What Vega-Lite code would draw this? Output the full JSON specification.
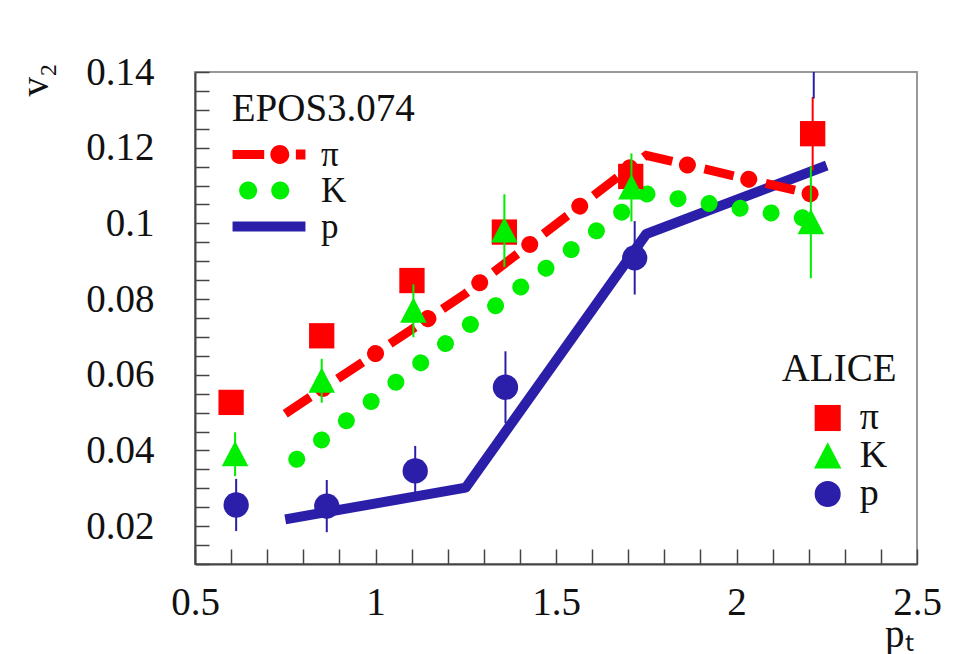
{
  "$schema": "https://vega.github.io/schema/vega-lite/v6.json",
  "width": 722,
  "height": 492,
  "autosize": {"type": "none"},
  "padding": {"left": 195, "top": 72, "right": 38, "bottom": 90},
  "background": "white",
  "config": {"view": {"stroke": "#999", "strokeWidth": 2}, "font": "Liberation Serif"},
  "datasets": {
    "epos": [
      {"particle": "π", "pt": 0.75, "v2": 0.0497},
      {"particle": "π", "pt": 1.25, "v2": 0.0815},
      {"particle": "π", "pt": 1.75, "v2": 0.1180},
      {"particle": "π", "pt": 2.25, "v2": 0.1068},
      {"particle": "K", "pt": 0.75, "v2": 0.0353},
      {"particle": "K", "pt": 1.25, "v2": 0.0724},
      {"particle": "K", "pt": 1.75, "v2": 0.1078},
      {"particle": "K", "pt": 2.25, "v2": 0.1005},
      {"particle": "p", "pt": 0.75, "v2": 0.0218},
      {"particle": "p", "pt": 1.25, "v2": 0.0302},
      {"particle": "p", "pt": 1.75, "v2": 0.0972},
      {"particle": "p", "pt": 2.25, "v2": 0.1153}
    ],
    "alice": [
      {"particle": "π", "pt": 0.6, "v2": 0.0527, "lo": 0.0507, "hi": 0.0547},
      {"particle": "π", "pt": 0.851, "v2": 0.0703, "lo": 0.0683, "hi": 0.0723},
      {"particle": "π", "pt": 1.101, "v2": 0.0849, "lo": 0.0829, "hi": 0.0869},
      {"particle": "π", "pt": 1.357, "v2": 0.0977, "lo": 0.0947, "hi": 0.1007},
      {"particle": "π", "pt": 1.707, "v2": 0.1124, "lo": 0.1084, "hi": 0.1164},
      {"particle": "π", "pt": 2.211, "v2": 0.1237, "lo": 0.114, "hi": 0.1334},
      {"particle": "K", "pt": 0.611, "v2": 0.039, "lo": 0.0332, "hi": 0.0448},
      {"particle": "K", "pt": 0.851, "v2": 0.0584, "lo": 0.0526, "hi": 0.0642},
      {"particle": "K", "pt": 1.105, "v2": 0.0769, "lo": 0.0699, "hi": 0.0839},
      {"particle": "K", "pt": 1.357, "v2": 0.0981, "lo": 0.0885, "hi": 0.1077},
      {"particle": "K", "pt": 1.709, "v2": 0.1095, "lo": 0.1005, "hi": 0.1185},
      {"particle": "K", "pt": 2.206, "v2": 0.1003, "lo": 0.0855, "hi": 0.1151},
      {"particle": "p", "pt": 0.614, "v2": 0.0256, "lo": 0.0187, "hi": 0.0325},
      {"particle": "p", "pt": 0.865, "v2": 0.0253, "lo": 0.0184, "hi": 0.0322},
      {"particle": "p", "pt": 1.11, "v2": 0.0346, "lo": 0.028, "hi": 0.0412},
      {"particle": "p", "pt": 1.36, "v2": 0.0567, "lo": 0.0472, "hi": 0.0662},
      {"particle": "p", "pt": 1.718, "v2": 0.0909, "lo": 0.0812, "hi": 0.1006},
      {"particle": "p", "pt": 2.214, "v2": 0.155, "lo": 0.133, "hi": 0.177}
    ]
  },
  "encoding": {
    "x": {
      "field": "pt", "type": "quantitative",
      "scale": {"domain": [0.5, 2.5], "nice": false, "zero": false},
      "axis": {
        "title": "pₜ",
        "values": [0.5,0.6,0.7,0.8,0.9,1,1.1,1.2,1.3,1.4,1.5,1.6,1.7,1.8,1.9,2,2.1,2.2,2.3,2.4,2.5],
        "labelExpr": "abs(datum.value*2-round(datum.value*2))<1e-6 ? format(datum.value,'.2~f') : ''",
        "ticks": true, "tickSize": -15, "labelPadding": 34,
        "labelFont": "Liberation Serif", "labelFontSize": 39, "labelColor": "#111",
        "labelFlush": false, "labelOverlap": false,
        "domainColor": "#444", "domainWidth": 2, "tickColor": "#444", "tickWidth": 1.5, "grid": false,
        "titleFont": "Liberation Serif", "titleFontSize": 39, "titleFontWeight": "normal", "titleColor": "#111",
        "titleX": 718, "titleY": 82, "titleAlign": "right", "titleBaseline": "alphabetic", "titleAnchor": "end",
        "encode": {"ticks": {"update": {"y2": {"signal": "abs(datum.value*2-round(datum.value*2))<1e-6 ? -28 : -15"}}}}
      }
    },
    "y": {
      "field": "v2", "type": "quantitative",
      "scale": {"domain": [0.01, 0.14], "nice": false, "zero": false},
      "axis": {
        "title": "v₂",
        "values": [0.01,0.015,0.02,0.025,0.03,0.035,0.04,0.045,0.05,0.055,0.06,0.065,0.07,0.075,0.08,0.085,0.09,0.095,0.1,0.105,0.11,0.115,0.12,0.125,0.13,0.135,0.14],
        "labelExpr": "abs(datum.value*50-round(datum.value*50))<1e-6 ? format(datum.value,'.2~f') : ''",
        "ticks": true, "tickSize": -14, "labelPadding": 55,
        "labelFont": "Liberation Serif", "labelFontSize": 39, "labelColor": "#111",
        "labelFlush": false, "labelOverlap": false,
        "domainColor": "#444", "domainWidth": 2, "tickColor": "#444", "tickWidth": 1.5, "grid": false,
        "titleFont": "Liberation Serif", "titleFontSize": 39, "titleFontWeight": "normal", "titleColor": "#111",
        "titleAngle": -90, "titleX": -148, "titleY": -9, "titleAlign": "right", "titleBaseline": "alphabetic", "titleAnchor": "end",
        "encode": {"ticks": {"update": {"x2": {"signal": "abs(datum.value*50-round(datum.value*50))<1e-6 ? 28 : 14"}}}}
      }
    }
  },
  "layer": [
    {
      "data": {"name": "epos"},
      "transform": [{"filter": "datum.particle === 'p'"}],
      "mark": {"type": "line", "strokeWidth": 10, "strokeJoin": "round", "strokeCap": "butt"},
      "encoding": {
        "stroke": {
          "field": "particle", "type": "nominal",
          "scale": {"domain": ["π", "K", "p"], "range": ["#ff0000", "#00ee00", "#2b1ea8"]},
          "legend": {
            "title": "EPOS3.074", "orient": "top-left", "offset": 18, "padding": 0,
            "titleFont": "Liberation Serif", "titleFontSize": 39, "titleFontWeight": "normal", "titleColor": "#111",
            "titlePadding": 8, "titleLimit": 400,
            "labelFont": "Liberation Serif", "labelFontSize": 35, "labelColor": "#111", "labelOffset": 34.4,
            "symbolSize": 900, "symbolOffset": 38.5, "rowPadding": 0,
            "encode": {
              "title": {"update": {"dx": {"value": 18.7}}},
              "symbols": {"update": {
                "shape": {"signal": "datum.value === 'π' ? 'M-2.43,-0.3H-0.32V0.3H-2.43Z M0.09,0A0.63,0.63 0 1,0 1.35,0A0.63,0.63 0 1,0 0.09,0Z M1.79,-0.33H2.43V0.33H1.79Z' : datum.value === 'K' ? 'M-1.99,0A0.6,0.6 0 1,0 -0.79,0A0.6,0.6 0 1,0 -1.99,0Z M0.15,0A0.6,0.6 0 1,0 1.35,0A0.6,0.6 0 1,0 0.15,0Z' : 'M-2.43,-0.33H2.43V0.33H-2.43Z'"},
                "fill": {"signal": "datum.value === 'π' ? '#ff0000' : datum.value === 'K' ? '#00ee00' : '#2b1ea8'"},
                "stroke": {"value": "transparent"},
                "strokeWidth": {"value": 0},
                "strokeDash": {"value": []},
                "opacity": {"value": 1}
              }}
            }
          }
        }
      }
    },
    {
      "data": {"name": "epos"},
      "transform": [{"filter": "datum.particle === 'K'"}],
      "mark": {"type": "line", "strokeWidth": 17, "strokeCap": "round", "strokeDash": [0.01, 31.39], "strokeDashOffset": 16.8},
      "encoding": {
        "stroke": {"field": "particle", "type": "nominal", "scale": {"domain": ["π", "K", "p"], "range": ["#ff0000", "#00ee00", "#2b1ea8"]}, "legend": null}
      }
    },
    {
      "data": {"name": "epos"},
      "transform": [{"filter": "datum.particle === 'π'"}],
      "mark": {"type": "line", "strokeWidth": 9, "strokeCap": "butt", "strokeDash": [30, 33]},
      "encoding": {
        "stroke": {"field": "particle", "type": "nominal", "scale": {"domain": ["π", "K", "p"], "range": ["#ff0000", "#00ee00", "#2b1ea8"]}, "legend": null}
      }
    },
    {
      "data": {"name": "epos"},
      "transform": [{"filter": "datum.particle === 'π'"}],
      "mark": {"type": "line", "strokeWidth": 17, "strokeCap": "round", "strokeDash": [0.01, 62.99], "strokeDashOffset": 17.5},
      "encoding": {
        "stroke": {"field": "particle", "type": "nominal", "scale": {"domain": ["π", "K", "p"], "range": ["#ff0000", "#00ee00", "#2b1ea8"]}, "legend": null}
      }
    },
    {
      "data": {"name": "alice"},
      "transform": [{"filter": "datum.particle === 'π'"}],
      "mark": {"type": "rule", "strokeWidth": 2, "clip": true},
      "encoding": {
        "y": {"field": "lo", "type": "quantitative"},
        "y2": {"field": "hi"},
        "stroke": {"field": "particle", "type": "nominal", "scale": {"domain": ["π", "K", "p"], "range": ["#ff0000", "#00ee00", "#2b1ea8"]}, "legend": null}
      }
    },
    {
      "data": {"name": "alice"},
      "transform": [{"filter": "datum.particle === 'π'"}],
      "mark": {"type": "point", "filled": true, "size": 640, "opacity": 1, "strokeWidth": 0, "clip": true},
      "encoding": {
        "shape": {
          "field": "particle", "type": "nominal",
          "scale": {"domain": ["π", "K", "p"], "range": ["square", "M0,-1.05L1.05,0.95L-1.05,0.95Z", "circle"]},
          "legend": {
            "title": "ALICE", "orient": "none", "legendX": 586.7, "legendY": 278, "padding": 0,
            "titleFont": "Liberation Serif", "titleFontSize": 39, "titleFontWeight": "normal", "titleColor": "#111",
            "titlePadding": 10, "titleLimit": 400,
            "labelFont": "Liberation Serif", "labelFontSize": 38, "labelColor": "#111", "labelOffset": 13,
            "symbolSize": 680, "symbolOffset": 27, "symbolStrokeWidth": 0, "rowPadding": 0,
            "encode": {"symbols": {"update": {
              "fill": {"signal": "datum.value === 'π' ? '#ff0000' : datum.value === 'K' ? '#00ee00' : '#2b1ea8'"},
              "opacity": {"value": 1}
            }}}
          }
        },
        "fill": {"field": "particle", "type": "nominal", "scale": {"domain": ["π", "K", "p"], "range": ["#ff0000", "#00ee00", "#2b1ea8"]}, "legend": null}
      }
    },
    {
      "data": {"name": "alice"},
      "transform": [{"filter": "datum.particle === 'K'"}],
      "mark": {"type": "rule", "strokeWidth": 2, "clip": true},
      "encoding": {
        "y": {"field": "lo", "type": "quantitative"},
        "y2": {"field": "hi"},
        "stroke": {"field": "particle", "type": "nominal", "scale": {"domain": ["π", "K", "p"], "range": ["#ff0000", "#00ee00", "#2b1ea8"]}, "legend": null}
      }
    },
    {
      "data": {"name": "alice"},
      "transform": [{"filter": "datum.particle === 'K'"}],
      "mark": {"type": "point", "filled": true, "size": 640, "opacity": 1, "strokeWidth": 0, "clip": true},
      "encoding": {
        "shape": {"field": "particle", "type": "nominal", "scale": {"domain": ["π", "K", "p"], "range": ["square", "M0,-1.05L1.05,0.95L-1.05,0.95Z", "circle"]}, "legend": null},
        "fill": {"field": "particle", "type": "nominal", "scale": {"domain": ["π", "K", "p"], "range": ["#ff0000", "#00ee00", "#2b1ea8"]}, "legend": null}
      }
    },
    {
      "data": {"name": "alice"},
      "transform": [{"filter": "datum.particle === 'p'"}],
      "mark": {"type": "rule", "strokeWidth": 2, "clip": true},
      "encoding": {
        "y": {"field": "lo", "type": "quantitative"},
        "y2": {"field": "hi"},
        "stroke": {"field": "particle", "type": "nominal", "scale": {"domain": ["π", "K", "p"], "range": ["#ff0000", "#00ee00", "#2b1ea8"]}, "legend": null}
      }
    },
    {
      "data": {"name": "alice"},
      "transform": [{"filter": "datum.particle === 'p'"}],
      "mark": {"type": "point", "filled": true, "size": 640, "opacity": 1, "strokeWidth": 0, "clip": true},
      "encoding": {
        "shape": {"field": "particle", "type": "nominal", "scale": {"domain": ["π", "K", "p"], "range": ["square", "M0,-1.05L1.05,0.95L-1.05,0.95Z", "circle"]}, "legend": null},
        "fill": {"field": "particle", "type": "nominal", "scale": {"domain": ["π", "K", "p"], "range": ["#ff0000", "#00ee00", "#2b1ea8"]}, "legend": null}
      }
    }
  ]
}
